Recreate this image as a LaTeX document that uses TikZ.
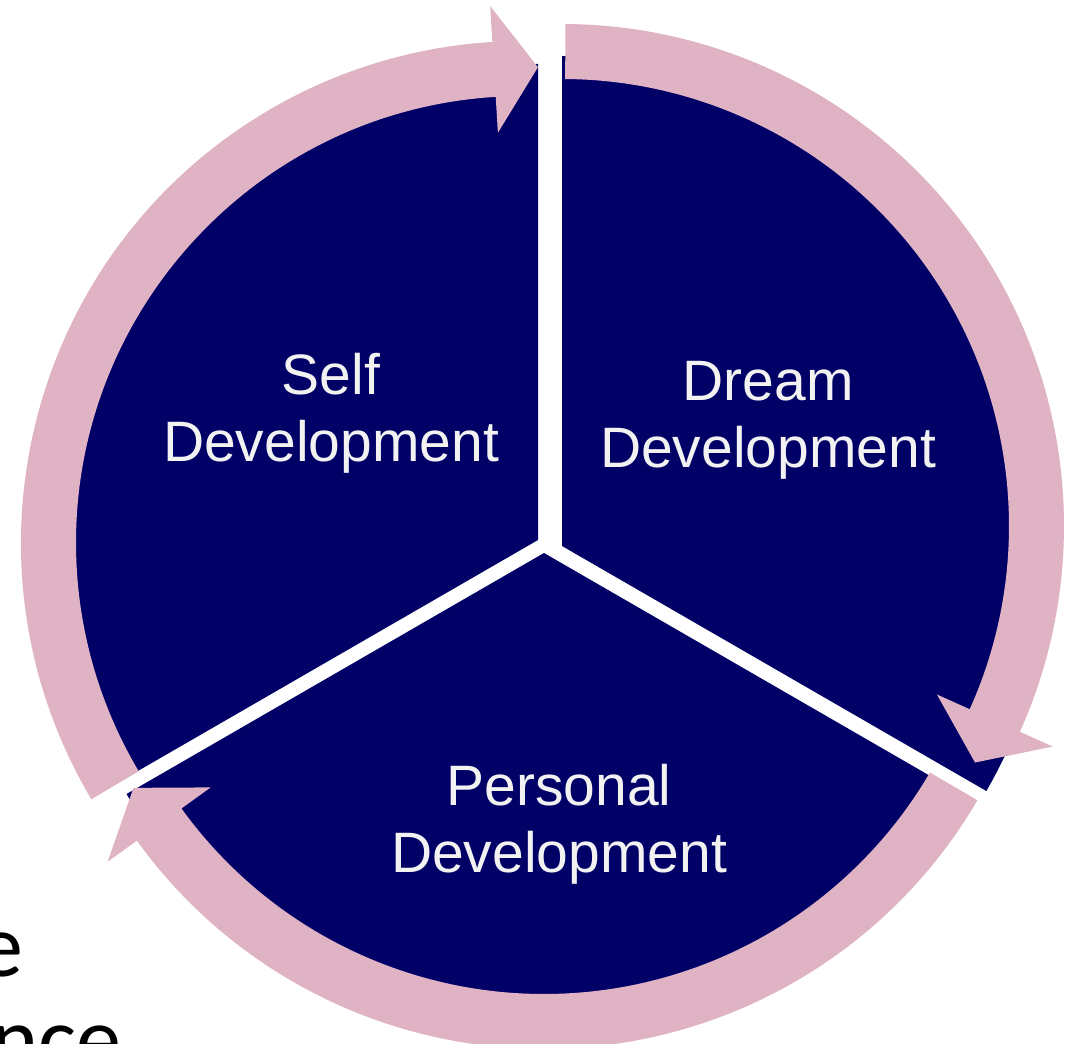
\documentclass[tikz,border=0pt]{standalone}
\usepackage{fontspec}
\setmainfont{Liberation Sans}
\newfontfamily\slidefont{Carlito}
\usetikzlibrary{positioning}

\definecolor{navyseg}{RGB}{0,0,102}
\definecolor{roseband}{RGB}{223,178,196}
\definecolor{labeltext}{RGB}{242,242,242}

\tikzset{
  segment/.style={fill=navyseg},
  band/.style={fill=roseband},
  seglabel/.style={text=labeltext, align=center, inner sep=0pt, font=\fontsize{42.75}{50}\selectfont},
  cuttext/.style={text=black, inner sep=0pt, font=\slidefont\fontsize{67.5}{80}\selectfont}
}

\begin{document}
\begin{tikzpicture}[x=0.75pt,y=0.75pt,yscale=-1,xscale=1]
\useasboundingbox (0,0) rectangle (1071,1044);
\clip (0,0) rectangle (1071,1044);
% slide text cut off at the left
\node (cuta) [cuttext, anchor=base east] at (24,976) {e};
\node (cutb) [cuttext, anchor=base east] at (122,1069) {ence};
% three segments
\fill [segment] (538,540) -- +(-90:476) arc [start angle=-90, end angle=-210, radius=476] -- cycle;
\fill [segment] (562,546) -- +(30:490) arc [start angle=30, end angle=-90, radius=490] -- cycle;
\fill [segment] (544,553) -- +(150:482) arc [start angle=150, end angle=30, radius=482] -- cycle;
% curved arrows
\fill [band, shift={(523,543)}] (149.3:502) arc [start angle=149.3, end angle=266.5, radius=502] -- (266.5:538) -- (271.8:476) -- (266.5:411) -- (266.5:447) arc [start angle=266.5, end angle=149.3, radius=447] -- cycle;
\fill [band, shift={(562,526)}] (-89.6:502) arc [start angle=-89.6, end angle=24.2, radius=502] -- (24.2:538) -- (29.8:476) -- (24.2:411) -- (24.2:447) arc [start angle=24.2, end angle=-89.6, radius=447] -- cycle;
\fill [band, shift={(544,547)}] (30.3:502) arc [start angle=30.3, end angle=144.2, radius=502] -- (144.2:538) -- (149.6:476) -- (144.2:411) -- (144.2:447) arc [start angle=144.2, end angle=30.3, radius=447] -- cycle;
% labels
\node (self) [seglabel] at (331,413) {Self\\Development};
\node (dream) [seglabel] at (768,420) {Dream\\Development};
\node (personal) [seglabel] at (559,824) {Personal\\Development};
\end{tikzpicture}
\end{document}
